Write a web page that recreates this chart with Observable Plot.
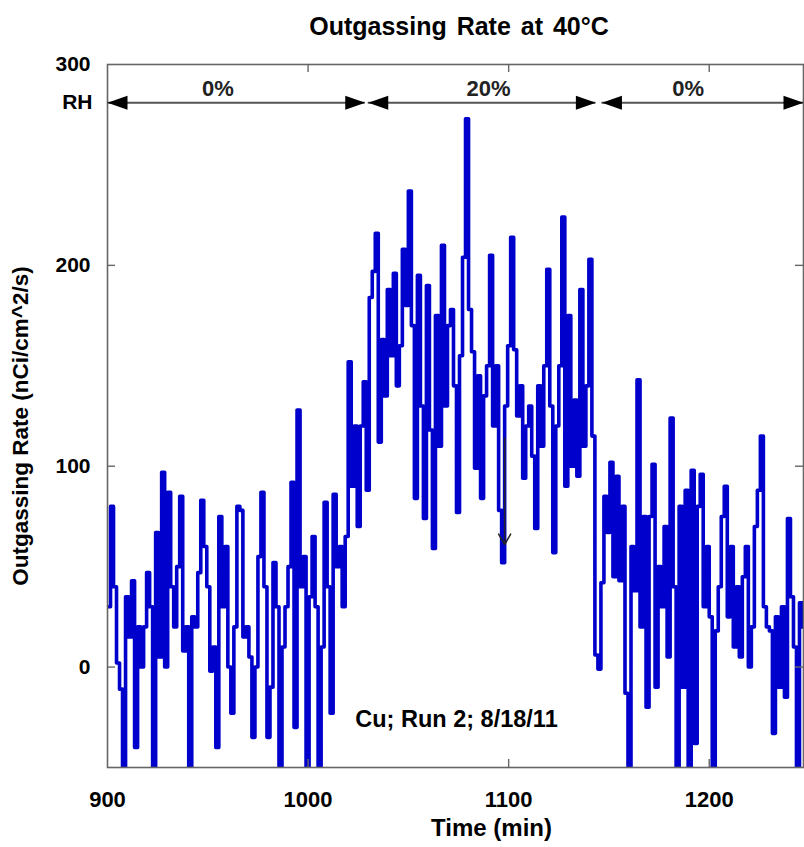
<!DOCTYPE html>
<html>
<head>
<meta charset="utf-8">
<script src="https://cdn.jsdelivr.net/npm/d3@7"></script>
<script src="https://cdn.jsdelivr.net/npm/@observablehq/plot@0.6"></script>
<style>
  body { margin: 0; background: #fff; font-family: "Liberation Sans", Arial, sans-serif; }
  #title { width: 690px; padding-left: 114px; height: 50px; line-height: 52px; text-align: center;
           font-weight: bold; font-size: 25px; word-spacing: 3px; color: #000; }
</style>
</head>
<body>
<div id="title">Outgassing Rate at 40°C</div>
<div id="chart"></div>
<script>
// ---- data ----
const xLabel = "Time (min)";
const yLabel = "Outgassing Rate (nCi/cm^2/s)";
const xDomain = [900, 1247];
const yDomain = [-50, 300];
const xTickLabels = [900, 1000, 1100, 1200];
const xTickMarks = [1000, 1100, 1200];
const yTickLabels = [0, 100, 200, 300];
const yTickMarks = [0, 100, 200];

const startTime = 900;      // min
const sampleInterval = 1.5; // min
const rates = [
  30, 80, 40, 2, -11, -60, 35, 15, 43, -40,
  20, 0, 20, 47, 30, -60, 67, 5, 97, 0,
  87, 40, 20, 50, 85, 8, 20, -60, 25, 20,
  47, 83, 60, 40, -2, 10, -40, 75, 30, 60,
  0, -23, 20, 80, 78, 15, 20, 5, -35, 0,
  55, 87, 40, -35, -10, 52, 30, -60, 10, 30,
  50, 92, -30, 128, 40, 55, -60, 35, 65, 30,
  -55, 10, 82, 40, -23, 86, 50, 60, 30, 65,
  152, 90, 120, 70, 120, 142, 88, 184, 197, 216,
  112, 163, 135, 188, 155, 196, 140, 160, 208, 180,
  237, 170, 84, 195, 130, 74, 190, 118, 59, 175,
  110, 210, 130, 170, 178, 140, 77, 155, 204, 273,
  178, 157, 99, 145, 84, 135, 150, 205, 120, 150,
  78, 52, 130, 160, 214, 158, 125, 140, 94, 120,
  130, 105, 69, 140, 110, 150, 198, 130, 57, 120,
  150, 224, 90, 175, 100, 133, 95, 188, 110, 140,
  203, 115, 6, -1, 42, 85, 67, 102, 45, 95,
  43, 80, -13, -60, 60, 38, 143, 20, 75, -20,
  75, 101, -10, 50, 30, 70, 5, 124, 40, -60,
  80, -10, 88, -55, 98, -38, 80, 96, 30, 60,
  25, -60, 18, 40, 75, 90, 25, 60, 10, 40,
  5, 45, 60, 0, 20, 70, 88, 115, 30, 20,
  18, -33, 25, -10, 30, -15, 74, 35, 10, -50,
  32, 20, 110
];

// RH bands
const rhLabels = ["0%", "20%", "0%"];
const rhStart = [900, 1030, 1146.5];
const rhEnd = [1028.5, 1143.5, 1247];
const rhLabelX = [955, 1090, 1189.5];
const rhLevel = 281;
const rhName = "RH";

// annotation arrow & note
const markerX = [1098];
const markerFrom = [114];
const markerTo = [61];
const noteText = ["Cu; Run 2; 8/18/11"];
const noteX = [1074];
const noteY = [-26];

// ---- build ----
const series = rates.map((v, i) => ({time: startTime + i * sampleInterval, rate: v}));
const bands = rhLabels.map((l, i) => ({label: l, x1: rhStart[i], x2: rhEnd[i], lx: rhLabelX[i], y: rhLevel}));
const marker = markerX.map((x, i) => ({x, y1: markerFrom[i], y2: markerTo[i]}));
const notes = noteText.map((t, i) => ({t, x: noteX[i], y: noteY[i]}));

const headRight = {draw(ctx) { ctx.moveTo(0, 0); ctx.lineTo(-20, -7); ctx.lineTo(-20, 7); ctx.closePath(); }};
const headLeft  = {draw(ctx) { ctx.moveTo(0, 0); ctx.lineTo(20, -7); ctx.lineTo(20, 7); ctx.closePath(); }};

const W = 804, H = 797, mT = 14, mB = 80, mL = 107, mR = 1;
const innerH = H - mT - mB, innerW = W - mL - mR;
const tickLen = 8;
const axisColor = "#666";
const fmt = d => String(d);

const chart = Plot.plot({
  width: W, height: H,
  marginTop: mT, marginBottom: mB, marginLeft: mL, marginRight: mR,
  style: {fontFamily: "'Liberation Sans', Arial, sans-serif", fontSize: "22px", fontWeight: "bold", color: "#000", background: "#fff"},
  x: {domain: xDomain},
  y: {domain: yDomain},
  marks: [
    Plot.line(series, {x: "time", y: "rate", curve: "step-after", stroke: "#0000cc", strokeWidth: 3.6, clip: true}),
    Plot.frame({stroke: axisColor, strokeWidth: 1.6}),
    Plot.tickX(xTickMarks, {x: d => d, insetTop: innerH - tickLen, stroke: axisColor, strokeWidth: 1.4}),
    Plot.tickX(xTickMarks, {x: d => d, insetBottom: innerH - tickLen, stroke: axisColor, strokeWidth: 1.4}),
    Plot.tickY(yTickMarks, {y: d => d, insetRight: innerW - tickLen, stroke: axisColor, strokeWidth: 1.4}),
    Plot.tickY(yTickMarks, {y: d => d, insetLeft: innerW - tickLen, stroke: axisColor, strokeWidth: 1.4}),
    Plot.axisX(xTickLabels, {tickSize: 0, tickPadding: 24, label: null, tickFormat: fmt, fontSize: 22, fontWeight: "bold"}),
    Plot.axisY(yTickLabels, {tickSize: 0, tickPadding: 17, label: null, tickFormat: fmt, fontSize: 21, fontWeight: "bold"}),
    Plot.text([xLabel], {frameAnchor: "bottom", dx: 36, dy: 68, textAnchor: "middle", fontSize: 24, fontWeight: "bold"}),
    Plot.text([yLabel], {frameAnchor: "left", dx: -87, dy: 10, rotate: -90, textAnchor: "middle", fontSize: 22.5, fontWeight: "bold"}),
    // RH arrows
    Plot.ruleY(bands, {y: "y", x1: "x1", x2: "x2", stroke: "#555", strokeWidth: 2}),
    Plot.dot(bands, {x: "x1", y: "y", symbol: headLeft, fill: "#000", stroke: "none", r: 1}),
    Plot.dot(bands, {x: "x2", y: "y", symbol: headRight, fill: "#000", stroke: "none", r: 1}),
    Plot.text(bands, {x: "lx", y: "y", text: "label", dy: -14, fontSize: 22, fontWeight: "bold", fill: "#222"}),
    Plot.text([rhName], {x: xDomain[0], y: rhLevel, dx: -15, textAnchor: "end", fontSize: 21, fontWeight: "bold"}),
    // marker arrow
    Plot.arrow(marker, {x1: "x", x2: "x", y1: "y1", y2: "y2", stroke: "#222", strokeWidth: 1.5, headLength: 12}),
    Plot.text(notes, {x: "x", y: "y", text: "t", fontSize: 23.5, fontWeight: "bold"})
  ]
});
document.getElementById("chart").appendChild(chart);
</script>
</body>
</html>
